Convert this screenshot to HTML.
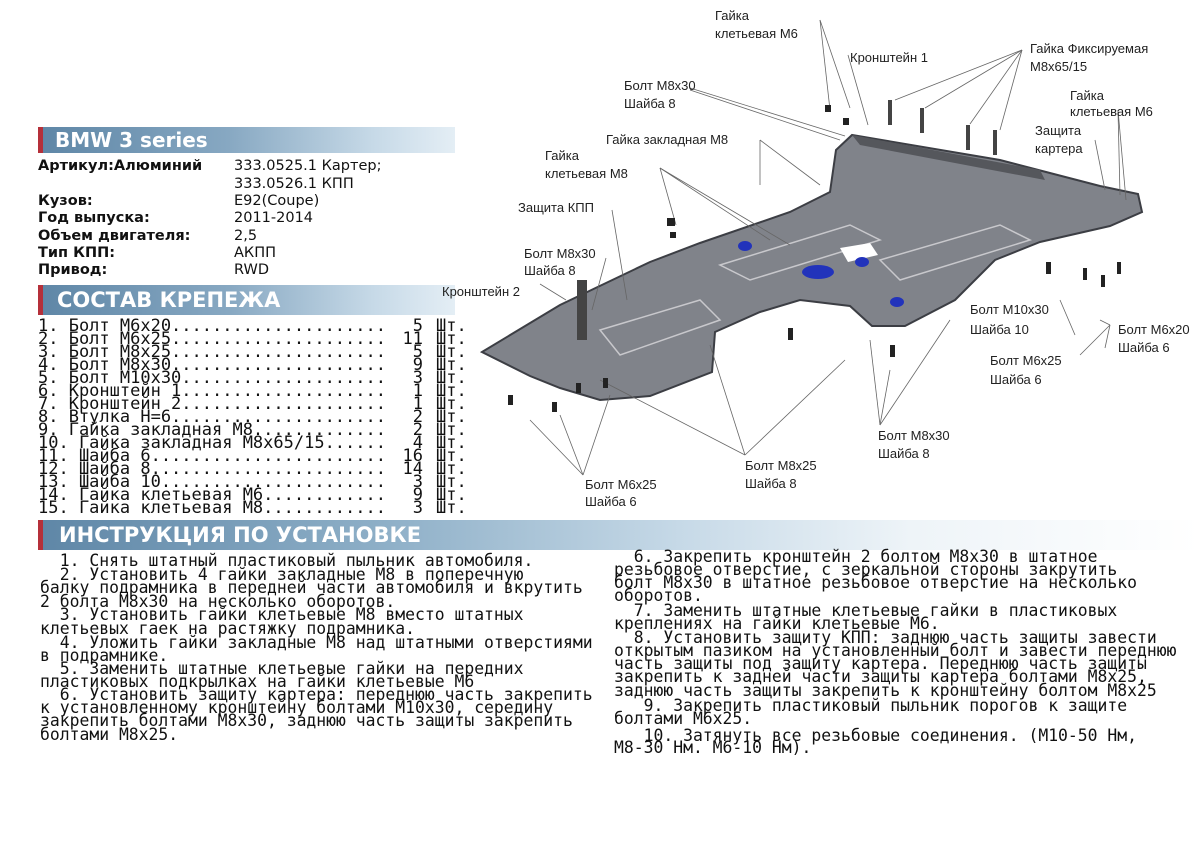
<!DOCTYPE html>
<html><head><meta charset="utf-8">
<style>
body{margin:0;background:#fff;width:1200px;height:848px;overflow:hidden;position:relative;font-family:"DejaVu Sans","Liberation Sans",sans-serif;}
.bar{position:absolute;background:linear-gradient(90deg,#5f87a7 0%,#87a8c2 45%,#c6d9e7 80%,#e4eef5 100%);border-left:5px solid #b5303a;color:#fff;font-weight:bold;box-sizing:border-box;}
.t{position:absolute;white-space:nowrap;}
.spec{font-weight:bold;font-size:14.5px;color:#111;}
.val{font-size:14.5px;color:#111;}
.li{position:absolute;left:38px;width:440px;font-family:"DejaVu Sans Mono",monospace;font-size:17px;color:#111;white-space:pre;line-height:13px;}
.li .n{display:inline-block;width:348px;overflow-x:clip;overflow-y:visible;vertical-align:top;}
.li .q{position:absolute;left:363px;width:22px;text-align:right;}
.li .s{position:absolute;left:398px;}
.ins{position:absolute;font-family:"DejaVu Sans Mono",monospace;font-size:16.4px;color:#111;white-space:pre;line-height:13px;}
svg text{font-family:"Liberation Sans Narrow","Liberation Sans",sans-serif;font-size:13px;fill:#222;}
</style></head><body>

<div class="bar" style="left:38px;top:127px;width:417px;height:26px;font-size:20px;padding-left:12px;line-height:26px;">BMW 3 series</div>
<div class="t spec" style="left:38px;top:158px">Артикул:Алюминий</div>
<div class="t val" style="left:234px;top:158px">333.0525.1 Картер;</div>
<div class="t val" style="left:234px;top:176px">333.0526.1 КПП</div>
<div class="t spec" style="left:38px;top:193px">Кузов:</div><div class="t val" style="left:234px;top:193px">E92(Coupe)</div>
<div class="t spec" style="left:38px;top:210px">Год выпуска:</div><div class="t val" style="left:234px;top:210px">2011-2014</div>
<div class="t spec" style="left:38px;top:228px">Объем двигателя:</div><div class="t val" style="left:234px;top:228px">2,5</div>
<div class="t spec" style="left:38px;top:245px">Тип КПП:</div><div class="t val" style="left:234px;top:245px">АКПП</div>
<div class="t spec" style="left:38px;top:262px">Привод:</div><div class="t val" style="left:234px;top:262px">RWD</div>

<div class="bar" style="left:38px;top:285px;width:417px;height:30px;font-size:21px;padding-left:14px;line-height:30px;">СОСТАВ КРЕПЕЖА</div>

<div class="li" style="top:320px"><span class="n">1. Болт М6х20........................................</span><span class="q">5</span><span class="s">Шт.</span></div>
<div class="li" style="top:333px"><span class="n">2. Болт М6х25........................................</span><span class="q">11</span><span class="s">Шт.</span></div>
<div class="li" style="top:346px"><span class="n">3. Болт М8х25........................................</span><span class="q">5</span><span class="s">Шт.</span></div>
<div class="li" style="top:359px"><span class="n">4. Болт М8х30........................................</span><span class="q">9</span><span class="s">Шт.</span></div>
<div class="li" style="top:372px"><span class="n">5. Болт М10х30.......................................</span><span class="q">3</span><span class="s">Шт.</span></div>
<div class="li" style="top:385px"><span class="n">6. Кронштейн 1.......................................</span><span class="q">1</span><span class="s">Шт.</span></div>
<div class="li" style="top:398px"><span class="n">7. Кронштейн 2.......................................</span><span class="q">1</span><span class="s">Шт.</span></div>
<div class="li" style="top:411px"><span class="n">8. Втулка Н=6........................................</span><span class="q">2</span><span class="s">Шт.</span></div>
<div class="li" style="top:424px"><span class="n">9. Гайка закладная М8................................</span><span class="q">2</span><span class="s">Шт.</span></div>
<div class="li" style="top:437px"><span class="n">10. Гайка закладная М8х65/15.......................</span><span class="q">4</span><span class="s">Шт.</span></div>
<div class="li" style="top:450px"><span class="n">11. Шайба 6..........................................</span><span class="q">16</span><span class="s">Шт.</span></div>
<div class="li" style="top:463px"><span class="n">12. Шайба 8..........................................</span><span class="q">14</span><span class="s">Шт.</span></div>
<div class="li" style="top:476px"><span class="n">13. Шайба 10.........................................</span><span class="q">3</span><span class="s">Шт.</span></div>
<div class="li" style="top:489px"><span class="n">14. Гайка клетьевая М6...............................</span><span class="q">9</span><span class="s">Шт.</span></div>
<div class="li" style="top:502px"><span class="n">15. Гайка клетьевая М8...............................</span><span class="q">3</span><span class="s">Шт.</span></div>

<div class="bar" style="left:38px;top:520px;width:1162px;height:30px;font-size:21px;padding-left:16px;line-height:30px;background:linear-gradient(90deg,#5f87a7 0%,#8fb0c8 30%,#c6d9e7 55%,#eef4f8 75%,#fff 100%);">ИНСТРУКЦИЯ ПО УСТАНОВКЕ</div>

<div class="ins" style="left:40px;top:554px">  1. Снять штатный пластиковый пыльник автомобиля.</div>
<div class="ins" style="left:40px;top:568px">  2. Установить 4 гайки закладные М8 в поперечную</div>
<div class="ins" style="left:40px;top:581px">балку подрамника в передней части автомобиля и вкрутить</div>
<div class="ins" style="left:40px;top:595px">2 болта М8х30 на несколько оборотов.</div>
<div class="ins" style="left:40px;top:608px">  3. Установить гайки клетьевые М8 вместо штатных</div>
<div class="ins" style="left:40px;top:622px">клетьевых гаек на растяжку подрамника.</div>
<div class="ins" style="left:40px;top:636px">  4. Уложить гайки закладные М8 над штатными отверстиями</div>
<div class="ins" style="left:40px;top:649px">в подрамнике.</div>
<div class="ins" style="left:40px;top:662px">  5. Заменить штатные клетьевые гайки на передних</div>
<div class="ins" style="left:40px;top:675px">пластиковых подкрылках на гайки клетьевые М6</div>
<div class="ins" style="left:40px;top:688px">  6. Установить защиту картера: переднюю часть закрепить</div>
<div class="ins" style="left:40px;top:701px">к установленному кронштейну болтами М10х30, середину</div>
<div class="ins" style="left:40px;top:714px">закрепить болтами М8х30, заднюю часть защиты закрепить</div>
<div class="ins" style="left:40px;top:728px">болтами М8х25.</div>

<div class="ins" style="left:614px;top:550px">  6. Закрепить кронштейн 2 болтом М8х30 в штатное</div>
<div class="ins" style="left:614px;top:563px">резьбовое отверстие, с зеркальной стороны закрутить</div>
<div class="ins" style="left:614px;top:576px">болт М8х30 в штатное резьбовое отверстие на несколько</div>
<div class="ins" style="left:614px;top:589px">оборотов.</div>
<div class="ins" style="left:614px;top:604px">  7. Заменить штатные клетьевые гайки в пластиковых</div>
<div class="ins" style="left:614px;top:617px">креплениях на гайки клетьевые М6.</div>
<div class="ins" style="left:614px;top:631px">  8. Установить защиту КПП: заднюю часть защиты завести</div>
<div class="ins" style="left:614px;top:644px">открытым пазиком на установленный болт и завести переднюю</div>
<div class="ins" style="left:614px;top:657px">часть защиты под защиту картера. Переднюю часть защиты</div>
<div class="ins" style="left:614px;top:670px">закрепить к задней части защиты картера болтами М8х25,</div>
<div class="ins" style="left:614px;top:684px">заднюю часть защиты закрепить к кронштейну болтом М8х25</div>
<div class="ins" style="left:614px;top:699px">   9. Закрепить пластиковый пыльник порогов к защите</div>
<div class="ins" style="left:614px;top:712px">болтами М6х25.</div>
<div class="ins" style="left:614px;top:729px">   10. Затянуть все резьбовые соединения. (М10-50 Нм,</div>
<div class="ins" style="left:614px;top:741px">М8-30 Нм. М6-10 Нм).</div>

<svg style="position:absolute;left:0;top:0" width="1200" height="520">
<polygon points="482,352 560,305 650,262 700,243 790,212 830,192 836,150 852,135 1000,160 1100,186 1138,194 1142,212 1110,226 1040,242 995,260 955,300 905,326 872,326 850,306 800,300 760,312 715,332 712,372 650,396 600,400 560,388 530,376" fill="#80838a" stroke="#3c3e44" stroke-width="2"/>
<polygon points="852,135 1040,170 1045,180 860,145" fill="#55575c"/>
<polygon points="600,330 700,300 720,320 620,355" fill="none" stroke="#c8c8cc" stroke-width="1.5"/>
<polygon points="720,265 850,225 880,240 750,280" fill="none" stroke="#c8c8cc" stroke-width="1.5"/>
<polygon points="880,260 1000,225 1030,240 900,280" fill="none" stroke="#c8c8cc" stroke-width="1.5"/>
<polygon points="840,248 870,243 878,255 848,262" fill="#fff"/>
<ellipse cx="818" cy="272" rx="16" ry="7" fill="#2233bb"/>
<ellipse cx="745" cy="246" rx="7" ry="5" fill="#2233bb"/>
<ellipse cx="862" cy="262" rx="7" ry="5" fill="#2233bb"/>
<ellipse cx="897" cy="302" rx="7" ry="5" fill="#2233bb"/>
<rect x="577" y="280" width="10" height="60" fill="#444"/>
<g stroke="#444" stroke-width="4">
<line x1="890" y1="100" x2="890" y2="125"/><line x1="922" y1="108" x2="922" y2="133"/><line x1="968" y1="125" x2="968" y2="150"/><line x1="995" y1="130" x2="995" y2="155"/>
</g>
<g stroke="#666" stroke-width="0.8" fill="none">
<line x1="820" y1="20" x2="830" y2="110"/><line x1="820" y1="20" x2="850" y2="108"/>
<line x1="848" y1="55" x2="868" y2="125"/>
<line x1="1022" y1="50" x2="895" y2="100"/><line x1="1022" y1="50" x2="925" y2="108"/><line x1="1022" y1="50" x2="970" y2="124"/><line x1="1022" y1="50" x2="1000" y2="130"/>
<line x1="690" y1="88" x2="845" y2="136"/><line x1="690" y1="90" x2="840" y2="140"/>
<line x1="1118" y1="110" x2="1120" y2="195"/><line x1="1118" y1="110" x2="1126" y2="200"/>
<line x1="1095" y1="140" x2="1105" y2="190"/>
<line x1="760" y1="140" x2="760" y2="185"/><line x1="760" y1="140" x2="820" y2="185"/>
<line x1="660" y1="168" x2="676" y2="225"/><line x1="660" y1="168" x2="770" y2="240"/><line x1="660" y1="168" x2="790" y2="245"/>
<line x1="612" y1="210" x2="627" y2="300"/>
<line x1="606" y1="258" x2="592" y2="310"/>
<line x1="540" y1="284" x2="566" y2="300"/>
<line x1="1060" y1="300" x2="1075" y2="335"/>
<line x1="1110" y1="325" x2="1080" y2="355"/><line x1="1110" y1="325" x2="1105" y2="348"/><line x1="1110" y1="325" x2="1100" y2="320"/>
<line x1="880" y1="425" x2="870" y2="340"/><line x1="880" y1="425" x2="890" y2="370"/><line x1="880" y1="425" x2="950" y2="320"/>
<line x1="745" y1="455" x2="710" y2="345"/><line x1="745" y1="455" x2="600" y2="380"/><line x1="745" y1="455" x2="845" y2="360"/>
<line x1="583" y1="475" x2="530" y2="420"/><line x1="583" y1="475" x2="560" y2="415"/><line x1="583" y1="475" x2="610" y2="395"/>
</g>
<g fill="#222">
<rect x="825" y="105" width="6" height="7"/><rect x="843" y="118" width="6" height="7"/><rect x="667" y="218" width="8" height="8"/><rect x="670" y="232" width="6" height="6"/>
<rect x="1046" y="262" width="5" height="12"/><rect x="1083" y="268" width="4" height="12"/><rect x="1101" y="275" width="4" height="12"/><rect x="1117" y="262" width="4" height="12"/>
<rect x="788" y="328" width="5" height="12"/><rect x="890" y="345" width="5" height="12"/><rect x="576" y="383" width="5" height="10"/><rect x="603" y="378" width="5" height="10"/><rect x="508" y="395" width="5" height="10"/><rect x="552" y="402" width="5" height="10"/>
</g>
<text x="715" y="20">Гайка</text><text x="715" y="38">клетьевая М6</text>
<text x="850" y="62">Кронштейн 1</text>
<text x="1030" y="53">Гайка Фиксируемая</text><text x="1030" y="71">М8х65/15</text>
<text x="624" y="90">Болт М8х30</text><text x="624" y="108">Шайба 8</text>
<text x="1070" y="100">Гайка</text><text x="1070" y="116">клетьевая М6</text>
<text x="1035" y="135">Защита</text><text x="1035" y="153">картера</text>
<text x="606" y="144">Гайка закладная М8</text>
<text x="545" y="160">Гайка</text><text x="545" y="178">клетьевая М8</text>
<text x="518" y="212">Защита КПП</text>
<text x="524" y="258">Болт М8х30</text><text x="524" y="275">Шайба 8</text>
<text x="442" y="296">Кронштейн 2</text>
<text x="970" y="314">Болт М10x30</text><text x="970" y="334">Шайба 10</text>
<text x="1118" y="334">Болт М6х20</text><text x="1118" y="352">Шайба 6</text>
<text x="990" y="365">Болт М6х25</text><text x="990" y="384">Шайба 6</text>
<text x="878" y="440">Болт М8х30</text><text x="878" y="458">Шайба 8</text>
<text x="745" y="470">Болт М8х25</text><text x="745" y="488">Шайба 8</text>
<text x="585" y="489">Болт М6х25</text><text x="585" y="506">Шайба 6</text>
</svg>
</body></html>
